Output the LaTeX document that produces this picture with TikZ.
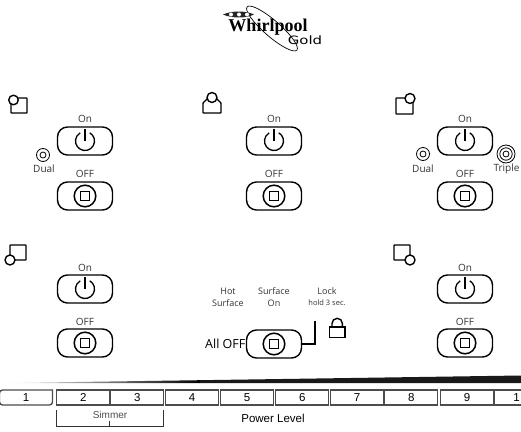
\documentclass[tikz,border=0pt]{standalone}
\usepackage{fontspec}
\setmainfont{Open Sans}
\newfontfamily\liber{Liberation Sans}
\newfontfamily\logofont{Liberation Serif}[BoldFont=Liberation Serif Bold]
\newfontfamily\goldfont{DejaVu Sans}
\usetikzlibrary{calc}
\tikzset{
 btn/.style={draw,line width=1.4pt,rounded corners=10pt,minimum width=55pt,minimum height=28pt,inner sep=0pt},
 lbl/.style={inner sep=0pt,font=\fontsize{10}{12}\selectfont,text=black!80},
 small/.style={inner sep=0pt,font=\fontsize{9}{11}\selectfont,text=black!80},
 lvl/.style={draw,line width=1.4pt,draw=black!70,minimum height=15pt,inner sep=0pt,font=\liber\fontsize{11.5}{12}\selectfont,anchor=west},
 burn/.style={line width=1.4pt,fill=white,rounded corners=.5pt,line join=round},
 thin ring/.style={line width=.8pt},
}
\newcommand\powicon[1]{%
 \draw[line width=1.3pt] ($(#1)+(60:9.5pt)$) arc[start angle=60,end angle=-240,radius=9.5pt];
 \draw[line width=1.3pt] ($(#1)+(0,0pt)$) -- ($(#1)+(0,12pt)$);}
\newcommand\stopicon[2][1.1pt]{%
 \draw[line width=1.5pt] (#2) circle[radius=10.8pt];
 \draw[line width=#1] ($(#2)+(-4.5pt,-4.5pt)$) rectangle ($(#2)+(4.5pt,4.5pt)$);}
\begin{document}
\begin{tikzpicture}[x=1pt,y=-1pt]
\useasboundingbox (0,0) rectangle (521,431);
% logo
\draw[line width=.7pt,rotate around={-41:(272,28.5)}] (272,28.5) ellipse[x radius=33,y radius=8];
\node[inner sep=0pt,font=\logofont\bfseries\fontsize{18}{19}\selectfont] (whirl) at (268,27) {Whirlpool};
\node[inner sep=0pt,font=\goldfont\fontsize{11.5}{12}\selectfont,xscale=1.3] (gold) at (305,40.5) {Gold};
\fill[black!85] (223,14.5) .. controls (232,10.5) and (246,10.5) .. (254,14.5) .. controls (246,18.5) and (232,18.5) .. (223,14.5) -- cycle;
\fill[white] (231,14.5) circle[radius=2] (239,14.5) circle[radius=2] (247,14.5) circle[radius=2];
% burner icons
\draw[burn] (11,98) rectangle (27,113); \draw[burn] (13.5,100) circle[radius=4.8];
\draw[burn] (203,113) -- (221,113) -- (221,103) -- (215,97) -- (209,97) -- (203,103) -- cycle; \draw[burn] (212,97.5) circle[radius=5];
\draw[burn] (396,98) rectangle (413,114); \draw[burn] (410,98.5) circle[radius=5];
\draw[burn] (10,245) rectangle (26,260); \draw[burn] (10,260) circle[radius=5];
\draw[burn] (394,245) rectangle (410,260); \draw[burn] (410,260) circle[radius=5];
% buttons
\node[btn] (on1) at (85,141) {};  \node[btn] (off1) at (85,196) {};
\node[btn] (on2) at (274,141) {}; \node[btn] (off2) at (274,196) {};
\node[btn] (on3) at (465,141) {}; \node[btn] (off3) at (465,196) {};
\node[btn] (on4) at (85,289) {};  \node[btn] (off4) at (85,343) {};
\node[btn] (on5) at (465,289) {}; \node[btn] (off5) at (465,343) {};
\node[btn] (alloff) at (274,344) {};
\powicon{on1}\powicon{on2}\powicon{on3}\powicon{on4}\powicon{on5}
\stopicon[1.6pt]{off1}\stopicon[1.6pt]{off2}\stopicon[1.6pt]{off3}\stopicon[1.6pt]{off4}\stopicon[.8pt]{off5}\stopicon[1.6pt]{alloff}
% labels
\foreach \n/\x/\y in {a/85/119,b/274/119,c/465/119,d/85/268,e/465/268}
  \node[lbl] (on\n) at (\x,\y) {On};
\foreach \n/\x/\y in {a/85/174,b/274/174,c/465/174,d/85/322,e/465/322}
  \node[lbl] (off\n) at (\x,\y) {OFF};
% duals
\draw[thin ring] (43,155) circle[radius=6.5] (43,155) circle[radius=3];
\node[lbl] (dual1) at (44,169) {Dual};
\draw[thin ring] (423,154) circle[radius=6.5] (423,154) circle[radius=3];
\node[lbl] (dual2) at (423,169) {Dual};
\draw[thin ring] (506,154) circle[radius=9] (506,154) circle[radius=6.2] (506,154) circle[radius=3];
\node[lbl] (triple) at (506.5,169) {Triple};
% centre
\node[small] (h1) at (228,291) {Hot};
\node[small] (h2) at (228,303) {Surface};
\node[small] (s1) at (274,291) {Surface};
\node[small] (s2) at (274,303) {On};
\node[small] (l1) at (327,291) {Lock};
\node[small,font=\fontsize{7.5}{9}\selectfont] (l2) at (327,303) {hold 3 sec.};
\node[inner sep=0pt,font=\fontsize{12.5}{14}\selectfont,anchor=east] (alltxt) at (245.5,344) {All OFF};
\coordinate (lockend) at (315,321);
\draw[line width=1.4pt] (alloff.east) -| (lockend);
\draw[line width=1.4pt] (329.5,327) rectangle (345,337.5);
\draw[line width=1.4pt] (332,327) -- (332,323.5) arc[start angle=180,end angle=360,radius=5.2] -- (342.4,327);
% wedge
\shade[left color=white,right color=black] (5,383) -- (200,380.2) -- (200,383) -- cycle;
\fill[black!90] (200,380.2) -- (521,375.5) -- (521,383) -- (200,383) -- cycle;
% levels
\draw[line width=1.4pt,draw=black!70,rounded corners=3pt] (52.5,390) -- (-0.5,390) -- (-0.5,405) -- (52.5,405) [sharp corners] -- cycle;
\begin{scope}[every node/.style={lvl}]
\node[minimum width=53pt] (l02) at (56,397.5) {2};
\node[minimum width=53pt] (l03) at (110,397.5) {3};
\node[minimum width=52.5pt] (l04) at (165,397.5) {4};
\node[minimum width=52.5pt] (l05) at (220,397.5) {5};
\node[minimum width=53pt] (l06) at (275,397.5) {6};
\node[minimum width=52.5pt] (l07) at (330,397.5) {7};
\node[minimum width=53pt] (l08) at (384,397.5) {8};
\node[minimum width=52.5pt] (l09) at (440,397.5) {9};
\node[minimum width=40pt] (l10) at (494,397.5) {};
\end{scope}
\node[inner sep=0pt,font=\liber\fontsize{11.5}{12}\selectfont] (n1) at (26,397.5) {1};
\node[inner sep=0pt,font=\liber\fontsize{11.5}{12}\selectfont] (n10) at (516.5,397.5) {1};
% simmer
\coordinate (sl) at (56,410); \coordinate (sr) at (163,410); \coordinate (sm) at (109,421);
\draw[line width=.9pt,draw=black!80] (sl) |- (sr |- 0,426) -- (sr);
\draw[line width=.7pt,draw=black!80] (sm) -- (sm |- 0,426);
\node[inner sep=0pt,font=\liber\fontsize{10}{12}\selectfont,text=black!70] (sim) at (110,415) {Simmer};
\node[inner sep=0pt,font=\liber\fontsize{11.5}{12}\selectfont] (pl) at (273,418) {Power Level};
\end{tikzpicture}
\end{document}
